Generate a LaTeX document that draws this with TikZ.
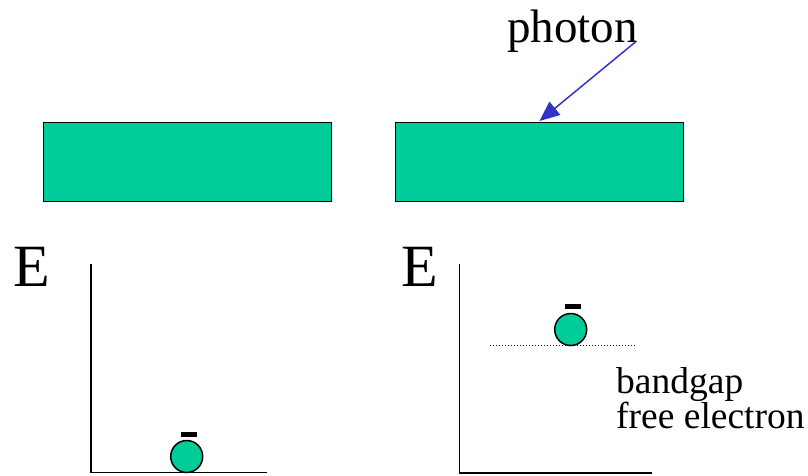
\documentclass[tikz,border=0pt]{standalone}
\usepackage{fontspec}
\setmainfont{Liberation Serif}
\usetikzlibrary{arrows.meta}
\definecolor{bandgreen}{HTML}{00CC99}
\definecolor{photonblue}{HTML}{3333CC}
\begin{document}
\begin{tikzpicture}[x=1pt,y=-1pt,
  slab/.style={draw=black, line width=1.8pt, fill=bandgreen, minimum width=288pt, minimum height=79pt, inner sep=0pt, anchor=north west},
  electron/.style={circle, draw=black, line width=1.5pt, fill=bandgreen, minimum size=32pt, inner sep=0pt},
  minusbar/.style={rectangle, fill=black, minimum width=16pt, minimum height=4.5pt, inner sep=0pt},
  axis/.style={draw=black, line width=1.4pt},
  biglabel/.style={font=\fontsize{60}{60}\selectfont, inner sep=0pt, anchor=base west},
  midlabel/.style={font=\fontsize{47}{47}\selectfont, inner sep=0pt, anchor=base west},
  smalllabel/.style={font=\fontsize{37.5}{37.5}\selectfont, inner sep=0pt, anchor=base west},
  photonarrow/.style={draw=photonblue, line width=1.5pt, -{Triangle[length=20pt,width=17pt]}}
]
\useasboundingbox (0,0) rectangle (808,475);

% slabs
\node[slab] (slabL) at (42.5,121.5) {};
\node[slab] (slabR) at (394.5,121.5) {};

% photon
\node[midlabel] (photon) at (507,42) {photon};
\coordinate (photontail) at (636,41.5);
\coordinate (hit) at (539.5,121);
\draw[photonarrow] (photontail) -- (hit);

% left energy axis
\node[biglabel] (EL) at (13,286) {E};
\coordinate (topL) at (91,264);
\coordinate (originL) at (91,472.5);
\coordinate (endL) at (267,472.5);
\draw[axis] (topL) -- (originL) -- (endL);
\node[electron] (eL) at (186.7,456.5) {};
\node[minusbar] (mL) at (188.7,434.5) {};

% right energy axis
\node[biglabel] (ER) at (401,286) {E};
\coordinate (topR) at (459.5,264);
\coordinate (originR) at (459.5,473);
\coordinate (endR) at (652,473);
\draw[axis] (topR) -- (originR) -- (endR);
\coordinate (gapA) at (490,345);
\coordinate (gapB) at (636,345);
\draw[black, line width=1pt, dash pattern=on 1pt off 2pt] (gapA) -- (gapB);
\node[electron] (eR) at (570.7,329.5) {};
\node[minusbar] (mR) at (572.8,306.5) {};

\node[smalllabel] (bandgap) at (616,393) {bandgap};
\node[smalllabel] (free) at (616,428) {free electron};
\end{tikzpicture}
\end{document}
